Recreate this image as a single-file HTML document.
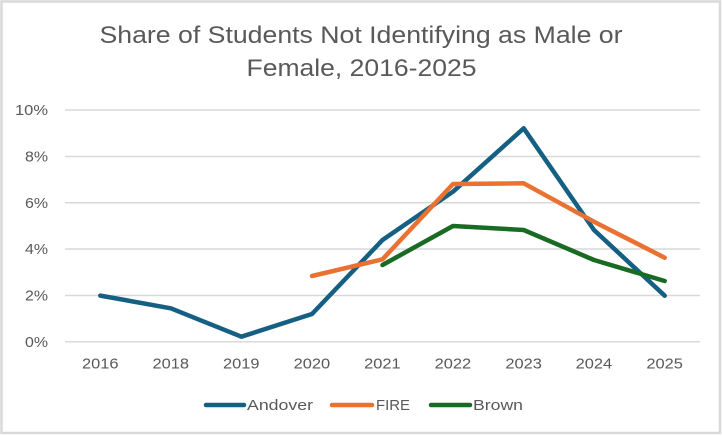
<!DOCTYPE html>
<html>
<head>
<meta charset="utf-8">
<style>
html,body{margin:0;padding:0;background:#fff;}
svg{display:block;}
text{font-family:"Liberation Sans",sans-serif;fill:#595959;}
</style>
</head>
<body>
<svg width="722" height="436" viewBox="0 0 722 436" xmlns="http://www.w3.org/2000/svg">
<rect x="0" y="0" width="722" height="436" fill="#fff"/>
<rect x="1.5" y="1.5" width="718.5" height="431.5" fill="#fff" stroke="#d9d9d9" stroke-width="2.5"/>
<text x="361" y="43" font-size="24" text-anchor="middle" textLength="523" lengthAdjust="spacingAndGlyphs">Share of Students Not Identifying as Male or</text>
<text x="361.5" y="76" font-size="24" text-anchor="middle" textLength="230" lengthAdjust="spacingAndGlyphs">Female, 2016-2025</text>
<g stroke="#d9d9d9" stroke-width="1.5">
<line x1="65" y1="110" x2="700" y2="110"/>
<line x1="65" y1="156.5" x2="700" y2="156.5"/>
<line x1="65" y1="202.8" x2="700" y2="202.8"/>
<line x1="65" y1="249" x2="700" y2="249"/>
<line x1="65" y1="295.5" x2="700" y2="295.5"/>
<line x1="65" y1="341.8" x2="700" y2="341.8"/>
</g>
<g font-size="15">
<text x="15" y="115" textLength="33" lengthAdjust="spacingAndGlyphs">10%</text>
<text x="25" y="161.5" textLength="23" lengthAdjust="spacingAndGlyphs">8%</text>
<text x="25" y="207.8" textLength="23" lengthAdjust="spacingAndGlyphs">6%</text>
<text x="25" y="254" textLength="23" lengthAdjust="spacingAndGlyphs">4%</text>
<text x="25" y="300.5" textLength="23" lengthAdjust="spacingAndGlyphs">2%</text>
<text x="25" y="346.8" textLength="23" lengthAdjust="spacingAndGlyphs">0%</text>
</g>
<g font-size="15">
<text x="82" y="368.5" textLength="36.5" lengthAdjust="spacingAndGlyphs">2016</text>
<text x="152.5" y="368.5" textLength="36.5" lengthAdjust="spacingAndGlyphs">2018</text>
<text x="223" y="368.5" textLength="36.5" lengthAdjust="spacingAndGlyphs">2019</text>
<text x="293.7" y="368.5" textLength="36.5" lengthAdjust="spacingAndGlyphs">2020</text>
<text x="364.2" y="368.5" textLength="36.5" lengthAdjust="spacingAndGlyphs">2021</text>
<text x="434.7" y="368.5" textLength="36.5" lengthAdjust="spacingAndGlyphs">2022</text>
<text x="505.4" y="368.5" textLength="36.5" lengthAdjust="spacingAndGlyphs">2023</text>
<text x="575.7" y="368.5" textLength="36.5" lengthAdjust="spacingAndGlyphs">2024</text>
<text x="646.4" y="368.5" textLength="36.5" lengthAdjust="spacingAndGlyphs">2025</text>
</g>
<g fill="none" stroke-width="4.5" stroke-linecap="round" stroke-linejoin="round">
<polyline stroke="#156082" points="100.3,295.6 170.8,308.3 241.4,336.7 312,314 382.5,240 453,191.7 523.7,128.3 594,230 664.7,295.7"/>
<polyline stroke="#E97132" points="312,276 382.5,259.3 453,184 523.7,183.3 594,221.7 664.7,257.7"/>
<polyline stroke="#196B24" points="382.5,265 453,226 523.7,230 594,260 664.7,281"/>
</g>
<g stroke-width="4.5" stroke-linecap="round">
<line x1="206" y1="405" x2="244" y2="405" stroke="#156082"/>
<line x1="332" y1="405" x2="372" y2="405" stroke="#E97132"/>
<line x1="431" y1="405" x2="470" y2="405" stroke="#196B24"/>
</g>
<g font-size="15">
<text x="247" y="410" textLength="66" lengthAdjust="spacingAndGlyphs">Andover</text>
<text x="376" y="410" textLength="34" lengthAdjust="spacingAndGlyphs">FIRE</text>
<text x="473" y="410" textLength="50" lengthAdjust="spacingAndGlyphs">Brown</text>
</g>
</svg>
</body>
</html>
